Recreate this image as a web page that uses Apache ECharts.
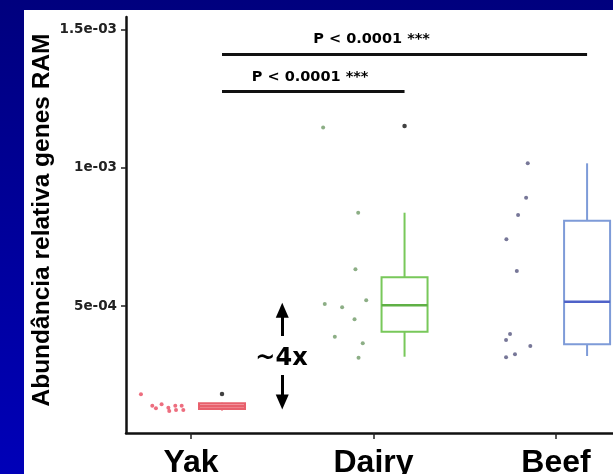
<!DOCTYPE html>
<html>
<head>
<meta charset="utf-8">
<script src="https://cdn.jsdelivr.net/npm/echarts@6/dist/echarts.min.js"></script>
<style>
  html, body { margin: 0; padding: 0; }
  body {
    width: 613px; height: 474px; overflow: hidden; position: relative;
    background: linear-gradient(to bottom, #00007e, #0000b8);
  }
  #chart { position: absolute; left: 24px; top: 10px; width: 589px; height: 464px; background: #fff; }
</style>
</head>
<body>
<div id="chart"></div>
<script>
// categories and tick labels
var categories = ["Yak", "Dairy", "Beef"];
var yTickValues = [5e-4, 1e-3, 1.5e-3];
var yTickLabels = ["5e-04", "1e-03", "1.5e-03"];

// jittered points: offset from category centre, and value
var yakOffsets = [-0.274, -0.212, -0.192, -0.161, -0.124, -0.119, -0.086, -0.082, -0.051, -0.042];
var yakValues = [1.806e-4, 1.394e-4, 1.300e-4, 1.445e-4, 1.322e-4, 1.203e-4, 1.394e-4, 1.239e-4, 1.394e-4, 1.239e-4];
var dairyOffsets = [-0.276, -0.084, -0.099, -0.267, -0.172, -0.040, -0.104, -0.212, -0.059, -0.082];
var dairyValues = [1.146e-3, 8.374e-4, 6.327e-4, 5.072e-4, 4.953e-4, 5.206e-4, 4.519e-4, 3.890e-4, 3.651e-4, 3.130e-4];
var beefOffsets = [-0.155, -0.164, -0.208, -0.272, -0.215, -0.252, -0.274, -0.141, -0.274, -0.225];
var beefValues = [1.016e-3, 8.917e-4, 8.291e-4, 7.412e-4, 6.266e-4, 3.987e-4, 3.770e-4, 3.553e-4, 3.145e-4, 3.253e-4];

// box stats: [lower whisker, Q1, median, Q3, upper whisker]
var yakBox = [1.22e-4, 1.275e-4, 1.376e-4, 1.48e-4, 1.50e-4];
var dairyBox = [3.166e-4, 4.071e-4, 5.025e-4, 6.038e-4, 8.374e-4];
var beefBox = [3.192e-4, 3.615e-4, 5.156e-4, 8.085e-4, 1.016e-3];
// outliers drawn in black on the box
var outliers = [1.817e-4, 1.151e-3, null];

var pLabel = "P < 0.0001 ***";

var BOX_SHIFT = 0.17, BOX_HALF = 0.126;
var boxColors = [
  { stroke: "#e8606c", fill: "#f5a3ab", median: "#e8606c" },
  { stroke: "#78c85a", fill: "#fff", median: "#5fb045" },
  { stroke: "#7e9bd8", fill: "#fff", median: "#4f62c8" }
];

function pts(idx, offs, vals) {
  return vals.map(function (v, i) { return [idx + 1 + offs[i], v]; });
}

var boxData = [yakBox, dairyBox, beefBox].map(function (b, i) {
  return [i + 1 + BOX_SHIFT].concat(b);
});
var outlierData = [];
outliers.forEach(function (v, i) { if (v != null) outlierData.push([i + 1 + BOX_SHIFT, v]); });

var chart = echarts.init(document.getElementById("chart"));
var boldDV = "DejaVu Sans";

chart.setOption({
  animation: false,
  grid: { left: 102, top: 7, right: 0, bottom: 41, outerBoundsMode: "none" },
  xAxis: {
    type: "value", min: 0.644, max: 3.312,
    splitLine: { show: false },
    axisLine: { lineStyle: { color: "#111", width: 2.5 } },
    axisTick: { customValues: [1, 2, 3], length: 6, lineStyle: { color: "#222", width: 1.5 } },
    axisLabel: {
      customValues: [1, 2, 3], margin: 14,
      formatter: function (v) { return categories[Math.round(v) - 1]; },
      fontFamily: "'Liberation Sans', Arial, sans-serif",
      fontWeight: "bold", fontSize: 32, color: "#000"
    }
  },
  yAxis: {
    type: "value", min: 4.07e-5, max: 1.5452e-3,
    splitLine: { show: false },
    axisLine: { show: true, lineStyle: { color: "#111", width: 2.5 } },
    axisTick: { show: true, customValues: yTickValues, length: 5, lineStyle: { color: "#222", width: 1.5 } },
    axisLabel: {
      customValues: yTickValues, margin: 9,
      formatter: function (v) {
        for (var i = 0; i < yTickValues.length; i++) if (Math.abs(v - yTickValues[i]) < 1e-9) return yTickLabels[i];
        return "";
      },
      fontFamily: boldDV, fontWeight: "bold", fontSize: 13.5, color: "#222"
    },
    name: "Abundância relativa genes RAM",
    nameLocation: "middle", nameRotate: 90, nameGap: 71, nameMoveOverlap: false,
    nameTextStyle: {
      fontFamily: "'Liberation Sans', Arial, sans-serif", fontWeight: "bold", fontSize: 24.5, color: "#000",
      padding: [0, 0, 0, 10]
    }
  },
  series: [
    {
      type: "custom", silent: true,
      data: boxData,
      renderItem: function (params, api) {
        var x = api.value(0);
        var lo = api.coord([x, api.value(1)]);
        var q1 = api.coord([x - BOX_HALF, api.value(2)]);
        var med = api.coord([x, api.value(3)]);
        var q3 = api.coord([x + BOX_HALF, api.value(4)]);
        var hi = api.coord([x, api.value(5)]);
        var c = boxColors[params.dataIndex];
        var w = q3[0] - q1[0];
        return {
          type: "group",
          children: [
            { type: "line", shape: { x1: hi[0], y1: hi[1], x2: hi[0], y2: q3[1] }, style: { stroke: c.stroke, lineWidth: 2 } },
            { type: "line", shape: { x1: lo[0], y1: q1[1], x2: lo[0], y2: lo[1] }, style: { stroke: c.stroke, lineWidth: 2 } },
            { type: "rect", shape: { x: q1[0], y: q3[1], width: w, height: q1[1] - q3[1] }, style: { fill: c.fill, stroke: c.stroke, lineWidth: 2 } },
            { type: "line", shape: { x1: q1[0], y1: med[1], x2: q3[0], y2: med[1] }, style: { stroke: c.median, lineWidth: 2.5 } }
          ]
        };
      }
    },
    { type: "scatter", silent: true, symbolSize: 4, itemStyle: { color: "#e84a5f" }, data: pts(0, yakOffsets, yakValues) },
    { type: "scatter", silent: true, symbolSize: 4, itemStyle: { color: "#6f9a66" }, data: pts(1, dairyOffsets, dairyValues) },
    { type: "scatter", silent: true, symbolSize: 4, itemStyle: { color: "#55557e" }, data: pts(2, beefOffsets, beefValues) },
    { type: "scatter", silent: true, symbolSize: 4.5, itemStyle: { color: "#111" }, data: outlierData, z: 3 },
    {
      type: "scatter", silent: true, symbolSize: 0, itemStyle: { color: "#000" },
      data: [
        { value: [1.670, 1.4635e-3], name: pLabel },
        { value: [1.333, 1.3282e-3], name: pLabel }
      ],
      label: {
        show: true, position: "right", distance: 0, formatter: "{b}",
        fontFamily: boldDV, fontWeight: "bold", fontSize: 14.5, color: "#000",
        textBorderWidth: 0, opacity: 1
      },
      markLine: {
        silent: true, symbol: "none", label: { show: false },
        lineStyle: { color: "#111", width: 3, type: "solid" },
        data: [
          [{ coord: [1 + BOX_SHIFT, 1.4105e-3] }, { coord: [3 + BOX_SHIFT, 1.4105e-3] }],
          [{ coord: [1 + BOX_SHIFT, 1.2754e-3] }, { coord: [2 + BOX_SHIFT, 1.2754e-3] }]
        ]
      }
    },
    {
      type: "scatter", silent: true, symbolSize: 0, itemStyle: { color: "#000" },
      data: [{ value: [1.496, 3.109e-4], name: "~4x" }],
      label: {
        show: true, position: "inside", formatter: "{b}",
        fontFamily: boldDV, fontWeight: "bold", fontSize: 24, color: "#000",
        textBorderWidth: 0, opacity: 1
      },
      markLine: {
        silent: true, symbol: ["none", "triangle"], symbolSize: [13, 15],
        label: { show: false },
        lineStyle: { color: "#000", width: 3, type: "solid" },
        itemStyle: { color: "#000" },
        data: [
          [{ coord: [1.5, 3.915e-4] }, { coord: [1.5, 4.85e-4] }],
          [{ coord: [1.5, 2.505e-4] }, { coord: [1.5, 1.53e-4] }]
        ]
      }
    }
  ]
});
</script>
</body>
</html>
